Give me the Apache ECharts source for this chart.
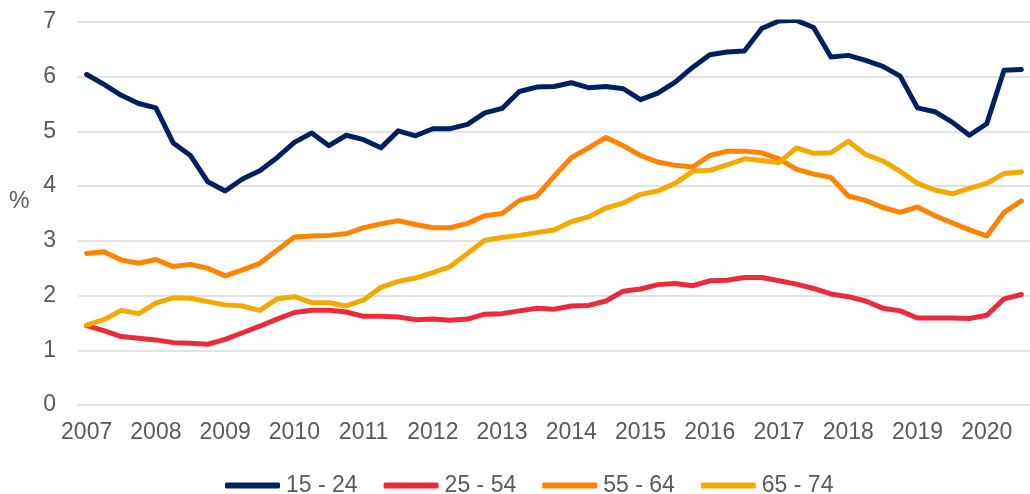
<!DOCTYPE html>
<html>
<head>
<meta charset="utf-8">
<script src="https://cdn.jsdelivr.net/npm/echarts@6/dist/echarts.min.js"></script>
<style>
html,body{margin:0;padding:0;background:#fff;}
#chart{width:1030px;height:494px;}
</style>
</head>
<body>
<div id="chart"></div>
<script>
const years = ['2007','2008','2009','2010','2011','2012','2013','2014','2015','2016','2017','2018','2019','2020'];
const quarters = ['Q1','Q2','Q3','Q4'];
const seriesNames = ['15 - 24','25 - 54','55 - 64','65 - 74'];

const age15_24 = [6.04,5.86,5.66,5.51,5.43,4.79,4.56,4.08,3.91,4.13,4.28,4.52,4.80,4.97,4.74,4.93,4.85,4.70,5.01,4.92,5.05,5.05,5.13,5.34,5.42,5.73,5.81,5.82,5.89,5.80,5.82,5.78,5.58,5.70,5.90,6.17,6.40,6.45,6.47,6.88,7.02,7.03,6.90,6.36,6.39,6.30,6.19,6.01,5.43,5.36,5.17,4.93,5.14,6.12,6.13];
const age25_54 = [1.45,1.36,1.25,1.22,1.19,1.14,1.13,1.11,1.20,1.32,1.44,1.57,1.69,1.73,1.73,1.70,1.62,1.62,1.61,1.56,1.57,1.55,1.57,1.66,1.67,1.72,1.77,1.75,1.81,1.82,1.90,2.08,2.12,2.20,2.22,2.18,2.27,2.28,2.33,2.33,2.27,2.21,2.13,2.03,1.98,1.90,1.77,1.72,1.59,1.59,1.59,1.58,1.64,1.94,2.02];
const age55_64 = [2.77,2.80,2.65,2.59,2.66,2.53,2.57,2.50,2.36,2.47,2.59,2.83,3.07,3.09,3.10,3.13,3.24,3.31,3.37,3.30,3.24,3.24,3.32,3.46,3.50,3.74,3.82,4.18,4.52,4.70,4.89,4.74,4.56,4.44,4.38,4.35,4.56,4.64,4.64,4.61,4.50,4.31,4.22,4.16,3.82,3.74,3.61,3.52,3.62,3.46,3.33,3.20,3.09,3.52,3.73];
const age65_74 = [1.46,1.56,1.73,1.67,1.86,1.96,1.95,1.89,1.83,1.81,1.73,1.94,1.98,1.87,1.87,1.81,1.92,2.15,2.26,2.32,2.42,2.53,2.77,3.01,3.06,3.10,3.15,3.20,3.35,3.44,3.60,3.69,3.85,3.91,4.05,4.27,4.29,4.39,4.50,4.47,4.43,4.70,4.60,4.61,4.82,4.58,4.46,4.27,4.05,3.93,3.86,3.96,4.05,4.23,4.26];

const colors = ['#002060','#EE2A3A','#FF8300','#F2AA00'];

const categories = [];
years.forEach(y => quarters.forEach(q => categories.push(y + q)));
categories.length = age15_24.length;

const FONT = '"Liberation Sans", Arial, sans-serif';
const TXT = '#595959';

const chart = echarts.init(document.getElementById('chart'), null, {renderer:'canvas'});
const allData = [age15_24, age25_54, age55_64, age65_74];

chart.setOption({
  animation: false,
  backgroundColor: '#fff',
  grid: { left: 78, top: 22, width: 965, height: 383, containLabel: false },
  xAxis: {
    type: 'category',
    data: categories,
    boundaryGap: true,
    axisLine: { show: false },
    axisTick: { show: false },
    axisLabel: {
      interval: 3,
      margin: 16,
      color: TXT,
      fontFamily: FONT,
      fontSize: 23,
      formatter: v => v.slice(0,4)
    },
    splitLine: { show: false }
  },
  yAxis: {
    type: 'value',
    min: 0, max: 7, interval: 1,
    axisLine: { show: false },
    axisTick: { show: false },
    axisLabel: { margin: 22, color: TXT, fontFamily: FONT, fontSize: 23 },
    splitLine: { lineStyle: { color: '#D9D9D9', width: 1.5 } }
  },
  legend: {
    left: 225,
    top: 474,
    padding: 0,
    itemWidth: 55,
    itemHeight: 6,
    itemGap: 26,
    icon: 'roundRect',
    textStyle: { color: TXT, fontFamily: FONT, fontSize: 23, padding: [0,0,0,1] },
    data: seriesNames
  },
  graphic: [{
    type: 'text',
    left: 9,
    top: 190,
    style: { text: '%', fill: TXT, font: '23px ' + FONT }
  }],
  series: seriesNames.map((n, i) => ({
    name: n,
    type: 'line',
    data: allData[i],
    showSymbol: false,
    symbol: 'none',
    smooth: false,
    color: colors[i],
    lineStyle: { width: 5, color: colors[i], join: 'round', cap: 'round' },
    emphasis: { disabled: true }
  }))
});
</script>
</body>
</html>
